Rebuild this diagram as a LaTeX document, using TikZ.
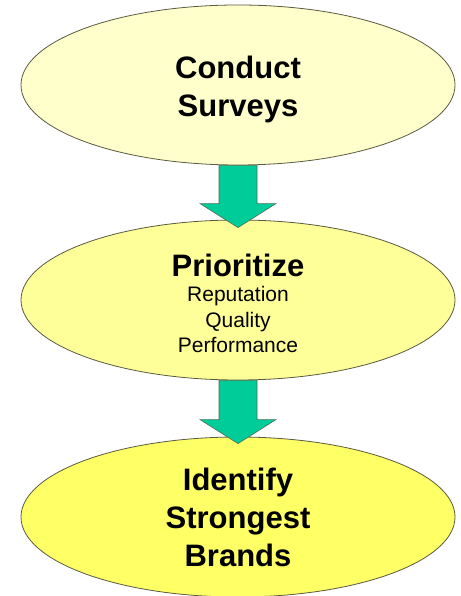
\documentclass[tikz,border=0pt]{standalone}
\usepackage{fontspec}
\setmainfont{Liberation Sans}
\usetikzlibrary{calc,shapes.geometric}
\definecolor{fillA}{HTML}{FFFFCC}
\definecolor{fillB}{HTML}{FFFF99}
\definecolor{fillC}{HTML}{FFFF66}
\definecolor{arrowgreen}{HTML}{00CC99}
\definecolor{edgegray}{HTML}{5A5A40}
\tikzset{
  stage/.style={ellipse, draw=edgegray, line width=0.8pt, inner sep=0pt,
    minimum width=434pt, minimum height=160pt, align=center, text depth=0pt},
  bigtext/.style={font=\fontsize{31}{38}\selectfont\bfseries},
  blockarrow/.style={fill=arrowgreen, draw=edgegray!80!arrowgreen, line width=0.6pt, line join=miter}
}
\begin{document}
\begin{tikzpicture}[x=1pt,y=1pt]
\useasboundingbox (0,0) rectangle (460,596);
\node[stage, fill=fillA, bigtext, text height=64pt] (e1) at (238,511) {Conduct\\Surveys};
\node[stage, fill=fillB, font=\fontsize{21}{25.5}\selectfont, text height=106pt] (e2) at (238,296)
  {{\fontsize{31}{38}\selectfont\bfseries Prioritize}\\Reputation\\Quality\\Performance};
\node[stage, fill=fillC, bigtext] (e3) at (238,79) {Identify\\Strongest\\Brands};
% arrow 1
\coordinate (t1) at ($(e2.north)+(0,-8)$);
\draw[blockarrow] ($(e1.south)+(-19,0)$) -- ($(t1)+(-19,24)$) -- ($(t1)+(-38,24)$)
  -- (t1) -- ($(t1)+(38,24)$) -- ($(t1)+(19,24)$) -- ($(e1.south)+(19,0)$) -- cycle;
% arrow 2
\coordinate (t2) at ($(e3.north)+(0,-7)$);
\draw[blockarrow] ($(e2.south)+(-19,0)$) -- ($(t2)+(-19,24)$) -- ($(t2)+(-38,24)$)
  -- (t2) -- ($(t2)+(38,24)$) -- ($(t2)+(19,24)$) -- ($(e2.south)+(19,0)$) -- cycle;
\end{tikzpicture}
\end{document}
